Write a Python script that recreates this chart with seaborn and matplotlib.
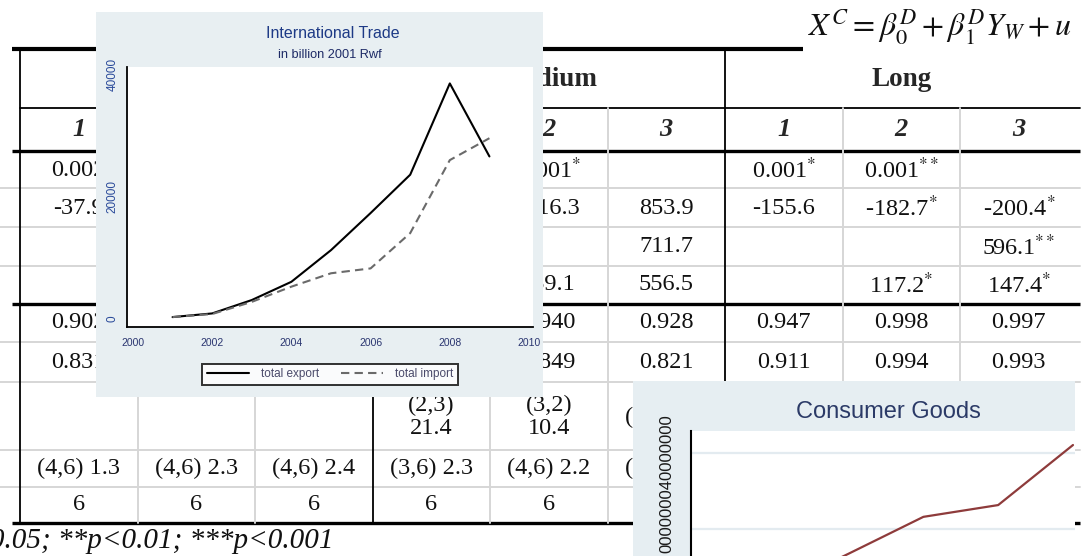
import re
import numpy as np
import pandas as pd
import matplotlib
matplotlib.use("Agg")
import matplotlib.pyplot as plt
import seaborn as sns

# ---------------- data ----------------
trade_years = [2001, 2002, 2003, 2004, 2005, 2006, 2007, 2008, 2009]
total_export = [200, 800, 3000, 6000, 11200, 17300, 23600, 38600, 26600]
total_import = [200, 700, 2700, 5200, 7400, 8200, 14000, 26000, 29600]
trade_series = ["total export", "total import"]
trade_xticks = [2000, 2002, 2004, 2006, 2008, 2010]
trade_yticks = [0, 20000, 40000]
trade_title = "International Trade"
trade_subtitle = "in billion 2001 Rwf"

consumer_years = [2004, 2005, 2006, 2007, 2008]
consumer_values = [0.4e9, 1.35e9, 2.32e9, 2.63e9, 4.21e9]
consumer_yticks = [2e9, 4e9]
consumer_title = "Consumer Goods"
consumer_ylabel = "000000040000000"

group_names = ["Short", "Medium", "Long"]
col_numbers = ["1", "2", "3", "1", "2", "3", "1", "2", "3"]
table_rows = [
    ["0.002", "", "", "", "0.001*", "", "0.001*", "0.001**", ""],
    ["-37.9", "", "", "", "-116.3", "853.9", "-155.6", "-182.7*", "-200.4*"],
    ["", "", "", "", "", "711.7", "", "", "596.1**"],
    ["", "", "", "", "239.1", "556.5", "", "117.2*", "147.4*"],
    ["0.902", "", "", "", "0.940", "0.928", "0.947", "0.998", "0.997"],
    ["0.831", "", "", "", "0.849", "0.821", "0.911", "0.994", "0.993"],
    ["", "", "", "(2,3)\n21.4", "(3,2)\n10.4", "(4,2) 9.3", "", "", ""],
    ["(4,6) 1.3", "(4,6) 2.3", "(4,6) 2.4", "(3,6) 2.3", "(4,6) 2.2", "(4,6) 2.1", "", "", ""],
    ["6", "6", "6", "6", "6", "", "", "", ""],
]
footnote = "*p<0.05; **p<0.01; ***p<0.001"
formula = r"$X^C = \beta_0^D + \beta_1^D Y_W + u$"

# ---------------- figure ----------------
sns.set_style("white")
plt.rcParams["font.family"] = ["Liberation Serif", "DejaVu Sans"]

W, H = 1089, 556
fig = plt.figure(figsize=(W / 100, H / 100), dpi=100)
fig.patch.set_facecolor("white")


def rect(x0, y0, x1, y1):
    return [x0 / W, 1 - y1 / H, (x1 - x0) / W, (y1 - y0) / H]


# ---------- background table ----------
axt = fig.add_axes([0, 0, 1, 1], zorder=0)
axt.set_xlim(0, W)
axt.set_ylim(H, 0)
axt.axis("off")

col_edges = [20 + 117.5 * i for i in range(10)]
col_centers = [(col_edges[i] + col_edges[i + 1]) / 2 for i in range(9)]
row_centers = [170, 208, 247, 285, 323, 362, 417, 468, 505]
GRAY = "#d6d6d6"
SERIF = ["Liberation Serif", "DejaVu Serif"]
FS = 17.5

# horizontal lines
axt.plot([12, 803], [49, 49], color="black", lw=3.0, solid_capstyle="butt")
axt.plot([20, 1080], [108, 108], color="black", lw=1.3)
for y in (151, 304, 523):
    axt.plot([12, 1080], [y, y], color="black", lw=2.4, solid_capstyle="butt")
for y in (188, 227, 266, 342, 382, 450, 487):
    axt.plot([0, 1080], [y, y], color=GRAY, lw=1.4)
# vertical lines
for i, x in enumerate(col_edges):
    if i in (0, 3, 6):
        axt.plot([x, x], [49, 523], color="black", lw=1.3)
    elif i < 9:
        axt.plot([x, x], [108, 523], color=GRAY, lw=1.4)


def fmt(s):
    m = re.match(r"^(.*?)(\*+)$", s)
    if m:
        return m.group(1) + r"$^{" + m.group(2) + "}$"
    return s


for g, name in enumerate(group_names):
    xc = (col_edges[3 * g] + col_edges[3 * g + 3]) / 2
    axt.text(xc, 80, name, ha="center", va="center", fontsize=19.5,
             fontweight="bold", family=SERIF)
for c, lab in enumerate(col_numbers):
    axt.text(col_centers[c], 130, lab, ha="center", va="center", fontsize=19,
             fontweight="bold", fontstyle="italic", family=SERIF)
for r, row in enumerate(table_rows):
    for c, val in enumerate(row):
        if val:
            axt.text(col_centers[c], row_centers[r], fmt(val), ha="center",
                     va="center", fontsize=FS, family=SERIF,
                     math_fontfamily="stix", linespacing=1.1, color="#111111")

# footnote: first characters run off the left edge
FN = 21
fig.canvas.draw()
rend = fig.canvas.get_renderer()
probe = axt.text(0, 541, "*p<", fontsize=FN, fontstyle="italic", family=SERIF)
pw = probe.get_window_extent(rend).width
probe.remove()
axt.text(-10 - pw, 541, footnote, ha="left", va="center", fontsize=FN,
         fontstyle="italic", family=SERIF, color="#111111")

axt.text(808, 27, formula, ha="left", va="center", fontsize=23,
         math_fontfamily="stix", color="#111111")

# ---------- inset 1 : International Trade ----------
INSET_BG = "#e8eff2"
bg1 = fig.add_axes(rect(96, 12, 543, 397), zorder=2)
bg1.set_facecolor(INSET_BG)
bg1.set_xticks([])
bg1.set_yticks([])
for s in bg1.spines.values():
    s.set_visible(False)

SANS = ["Liberation Sans", "DejaVu Sans"]
fig.text(333 / W, 1 - 33 / H, trade_title, ha="center", va="center",
         fontsize=11.5, family=SANS, color="#1d3a86", zorder=5)
fig.text(330 / W, 1 - 55 / H, trade_subtitle, ha="center", va="center",
         fontsize=9.2, family=SANS, color="#1d2a66", zorder=5)

ax1 = fig.add_axes(rect(127, 67, 533, 327), zorder=3)
ax1.set_facecolor("white")
trade_df = pd.DataFrame({
    "year": trade_years * 2,
    "value": total_export + total_import,
    "series": [trade_series[0]] * len(trade_years) + [trade_series[1]] * len(trade_years),
})
sns.lineplot(data=trade_df, x="year", y="value", hue="series", style="series",
             palette={trade_series[0]: "black", trade_series[1]: "#6a6a6a"},
             dashes={trade_series[0]: "", trade_series[1]: (4, 2.5)},
             linewidth=1.5, ax=ax1)
ax1.set_xlim(1999.85, 2010.1)
ax1.set_ylim(-1430, 41300)
ax1.set_xticks(trade_xticks)
ax1.set_xticklabels([str(t) for t in trade_xticks], fontsize=7.5, family=SANS,
                    color="#2a3570")
ax1.set_yticks(trade_yticks)
ax1.set_yticklabels([str(t) for t in trade_yticks], fontsize=8.5, family=SANS,
                    color="#2a4a9a", rotation=90, va="center")
ax1.tick_params(axis="x", length=2, pad=6, color="black")
ax1.tick_params(axis="y", length=0, pad=6)
ax1.set_xlabel("")
ax1.set_ylabel("")
for side in ("top", "right"):
    ax1.spines[side].set_visible(False)
for side in ("left", "bottom"):
    ax1.spines[side].set_color("black")
    ax1.spines[side].set_linewidth(1.3)
handles, labels = ax1.get_legend_handles_labels()
leg = ax1.legend(handles, labels, loc="upper center", bbox_to_anchor=(0.5, -0.118),
                 ncol=2, frameon=True, fancybox=False,
                 handlelength=3.6, columnspacing=1.8, borderpad=0.4,
                 handletextpad=1.0, prop={"family": SANS, "size": 8.5})
leg.get_frame().set_edgecolor("black")
leg.get_frame().set_linewidth(1.4)
for t in leg.get_texts():
    t.set_color("#4a4a6a")

# ---------- inset 2 : Consumer Goods ----------
bg2 = fig.add_axes(rect(633, 381, 1075, 720), zorder=4)
bg2.set_facecolor("#e6eef2")
bg2.set_xticks([])
bg2.set_yticks([])
for s in bg2.spines.values():
    s.set_visible(False)

fig.text(888 / W, 1 - 412 / H, consumer_title, ha="center", va="center",
         fontsize=17, family=SANS, color="#2b3a67", zorder=6)

ax2 = fig.add_axes(rect(691, 431, 1075, 720), zorder=5)
ax2.set_facecolor("white")
sns.lineplot(x=consumer_years, y=consumer_values, color="#8e3b3b",
             linewidth=1.6, ax=ax2)
ax2.set_xlim(2002.893, 2008.027)
ax2.set_ylim(-3.026e9, 4.579e9)
ax2.set_yticks(consumer_yticks)
ax2.set_yticklabels(["", ""])
ax2.set_xticks([])
ax2.grid(axis="y", color="#e3ebf0", linewidth=1.6)
ax2.tick_params(axis="y", length=6, width=1.2, color="black", direction="out")
for side in ("top", "right", "bottom"):
    ax2.spines[side].set_visible(False)
ax2.spines["left"].set_color("black")
ax2.spines["left"].set_linewidth(1.5)
fig.text(667 / W, 1 - 484 / H, consumer_ylabel, rotation=90, ha="center",
         va="center", fontsize=12, family=SANS, color="#1a1a1a", zorder=6)

fig.savefig("out.png", dpi=100, facecolor="white")
